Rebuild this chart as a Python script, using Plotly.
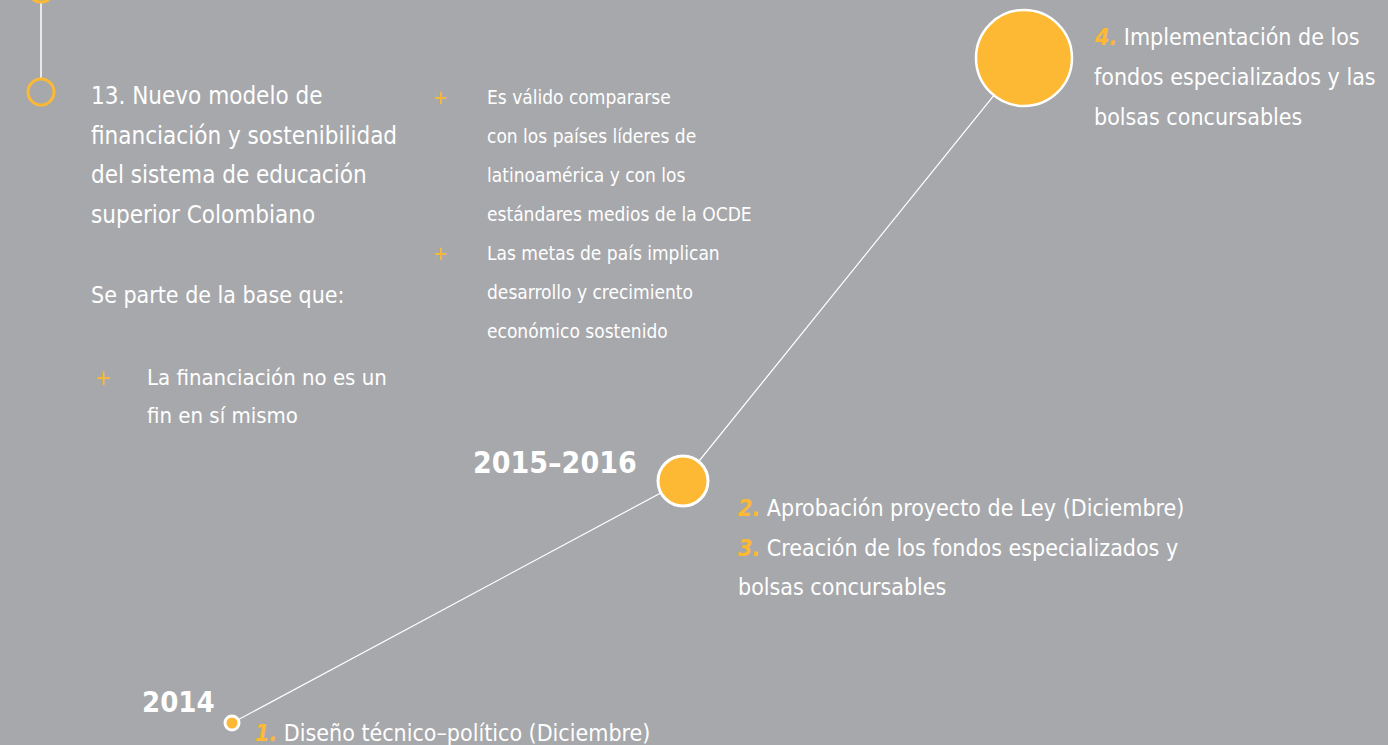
"""
Línea de tiempo: nuevo modelo de financiación de la educación superior
"""
import plotly.graph_objects as go

# colores
BG = "#A7A8AB"
YELLOW = "#FDB933"
WHITE = "#FFFFFF"
FONT = "DejaVu Sans Condensed"

# hitos de la línea de tiempo (posición en px de la lámina)
milestone_years = ["2014", "2015–2016", ""]
milestone_x = [232, 683, 1024]
milestone_y = [723, 481, 58]
milestone_size = [14, 50, 96]

# marcador superior izquierdo (índice 13)
index_x = [41, 41]
index_y = [-11, 92]

# textos
heading_lines = ["13. Nuevo modelo de", "financiación y sostenibilidad",
                 "del sistema de educación", "superior Colombiano"]
intro_line = "Se parte de la base que:"
bullet_left = [["La financiación no es un", "fin en sí mismo"]]
bullet_mid = [["Es válido compararse", "con los países líderes de",
               "latinoamérica y con los", "estándares medios de la OCDE"],
              ["Las metas de país implican", "desarrollo y crecimiento",
               "económico sostenido"]]
step_nums = ["1.", "2.", "3.", "4."]
step_texts = [["Diseño técnico–político (Diciembre)"],
              ["Aprobación proyecto de Ley (Diciembre)"],
              ["Creación de los fondos especializados y", "bolsas concursables"],
              ["Implementación de los", "fondos especializados y las",
               "bolsas concursables"]]

fig = go.Figure()

# línea vertical del índice
fig.add_trace(go.Scatter(x=index_x, y=index_y, mode="lines",
                         line=dict(color=WHITE, width=1.5), hoverinfo="skip"))
fig.add_trace(go.Scatter(x=index_x, y=index_y, mode="markers",
                         marker=dict(size=26, color=BG, opacity=1,
                                     line=dict(color=YELLOW, width=3)),
                         hoverinfo="skip"))

# línea diagonal y círculos
fig.add_trace(go.Scatter(x=milestone_x, y=milestone_y, mode="lines",
                         line=dict(color=WHITE, width=1.2), hoverinfo="skip"))
fig.add_trace(go.Scatter(x=milestone_x, y=milestone_y, mode="markers",
                         marker=dict(size=milestone_size, color=YELLOW, opacity=1,
                                     line=dict(color=WHITE, width=[3, 3, 2.5])),
                         hoverinfo="skip"))


def txt(x, y, text, size, color=WHITE, bold=False):
    fig.add_annotation(x=x, y=y, text=f"<b>{text}</b>" if bold else text,
                       showarrow=False, xanchor="left", yanchor="middle",
                       font=dict(family=FONT, size=size, color=color))


def num(n):
    return f"<span style='color:{YELLOW}'><b><i>{n}</i></b></span> "


# encabezado izquierdo
for i, line in enumerate(heading_lines):
    txt(89, 96 + i * 39.5, line, 24)
txt(89, 295, intro_line, 23)
for i, line in enumerate(bullet_left[0]):
    txt(145, 377 + i * 38.5, line, 22)
txt(93, 377, "+", 22, YELLOW)

# columna central
row = 0
for block in bullet_mid:
    txt(431, 97 + row * 39, "+", 20, YELLOW)
    for line in block:
        txt(485, 97 + row * 39, line, 19)
        row += 1

# años
txt(471, 462, milestone_years[1], 30, bold=True)
txt(140, 702, milestone_years[0], 29, bold=True)

# pasos
txt(253, 733, num(step_nums[0]) + step_texts[0][0], 23)
txt(736, 508, num(step_nums[1]) + step_texts[1][0], 23)
txt(736, 548, num(step_nums[2]) + step_texts[2][0], 23)
txt(736, 587, step_texts[2][1], 23)
for i, line in enumerate(step_texts[3]):
    txt(1092, 37 + i * 40, (num(step_nums[3]) if i == 0 else "") + line, 23)

fig.update_layout(
    width=1388, height=745,
    margin=dict(l=0, r=0, t=0, b=0),
    paper_bgcolor=BG, plot_bgcolor=BG,
    showlegend=False,
    xaxis=dict(range=[0, 1388], visible=False, fixedrange=True),
    yaxis=dict(range=[745, 0], visible=False, fixedrange=True),
)
fig.write_html("out.html", post_script="document.body.style.margin='0';",
               config={"displayModeBar": False})
